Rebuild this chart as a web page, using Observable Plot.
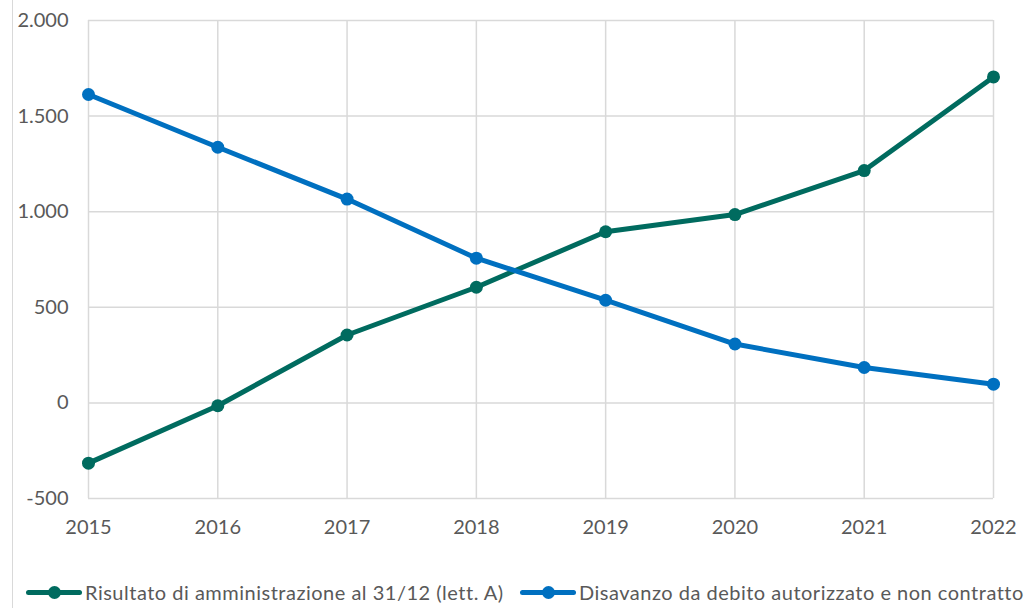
<!DOCTYPE html>
<html><head><meta charset="utf-8">
<script src="https://cdn.jsdelivr.net/npm/d3@7"></script>
<script src="https://cdn.jsdelivr.net/npm/@observablehq/plot@0.6"></script>
<style>
body{margin:0;background:#fff;}
#wrap{position:relative;width:1027px;height:608px;overflow:hidden;font-family:Lato,"Open Sans",sans-serif;}
#border{position:absolute;left:12px;top:0;width:1px;height:608px;background:#d9d9d9;z-index:5;}
#chart{position:absolute;left:0;top:0;}
#legend{position:absolute;top:579px;left:0;width:1027px;height:26px;font-size:20px;letter-spacing:0.5px;color:#595959;white-space:nowrap;}
.item{position:absolute;top:0;display:flex;align-items:center;height:26px;}
.sw{position:relative;width:56px;height:26px;margin-right:3px;}
.sw .ln{position:absolute;left:0;right:0;top:11px;height:5px;border-radius:3px;}
.sw .dt{position:absolute;left:22px;top:7px;width:13px;height:13px;border-radius:50%;}
</style></head><body>
<div id="wrap"><div id="border"></div><div id="chart"></div><div id="legend"></div></div>
<script>
const years = [2015, 2016, 2017, 2018, 2019, 2020, 2021, 2022];
const risultato = [-315, -15, 355, 605, 895, 985, 1215, 1705];
const disavanzo = [1613, 1337, 1066, 757, 537, 308, 185, 98];
const seriesNames = ["Risultato di amministrazione al 31/12 (lett. A)", "Disavanzo da debito autorizzato e non contratto"];
const seriesColors = ["#006B5F", "#0070C0"];
const yTicks = [-500, 0, 500, 1000, 1500, 2000];

const data = [];
years.forEach((y, i) => {
  data.push({year: y, value: risultato[i], series: seriesNames[0]});
  data.push({year: y, value: disavanzo[i], series: seriesNames[1]});
});
const fmt = d3.formatLocale({decimal: ",", thousands: ".", grouping: [3], currency: ["", "€"], minus: "-"}).format(",d");

const plot = Plot.plot({
  width: 1027,
  height: 545,
  marginLeft: 88,
  marginRight: 34,
  marginTop: 20,
  marginBottom: 47,
  style: {fontFamily: 'Lato, "Open Sans", sans-serif', color: "#595959", background: "transparent"},
  x: {domain: [2015, 2022], ticks: years, tickFormat: d => String(d), label: null},
  y: {domain: [-500, 2000], ticks: yTicks, label: null},
  color: {domain: seriesNames, range: seriesColors},
  marks: [
    Plot.gridY(yTicks, {stroke: "#d9d9d9", strokeOpacity: 1, strokeWidth: 1.5}),
    Plot.gridX(years, {stroke: "#d9d9d9", strokeOpacity: 1, strokeWidth: 1.5}),
    Plot.axisY(yTicks, {tickSize: 0, tickPadding: 20, fontSize: 20, tickFormat: fmt, fill: "#595959", label: null}),
    Plot.axisX(years, {tickSize: 0, tickPadding: 21, fontSize: 20, tickFormat: d => String(d), fill: "#595959", label: null}),
    Plot.line(data, {x: "year", y: "value", z: "series", stroke: "series", strokeWidth: 5, strokeLinejoin: "round", strokeLinecap: "round"}),
    Plot.dot(data, {x: "year", y: "value", fill: "series", r: 6.5})
  ]
});
document.getElementById("chart").appendChild(plot);

const legend = document.getElementById("legend");
const lefts = [26, 520];
seriesNames.forEach((name, i) => {
  const it = document.createElement("div");
  it.className = "item";
  it.style.left = lefts[i] + "px";
  it.innerHTML = `<div class="sw"><div class="ln" style="background:${seriesColors[i]}"></div><div class="dt" style="background:${seriesColors[i]}"></div></div><span>${name}</span>`;
  legend.appendChild(it);
});
</script>
</body></html>
